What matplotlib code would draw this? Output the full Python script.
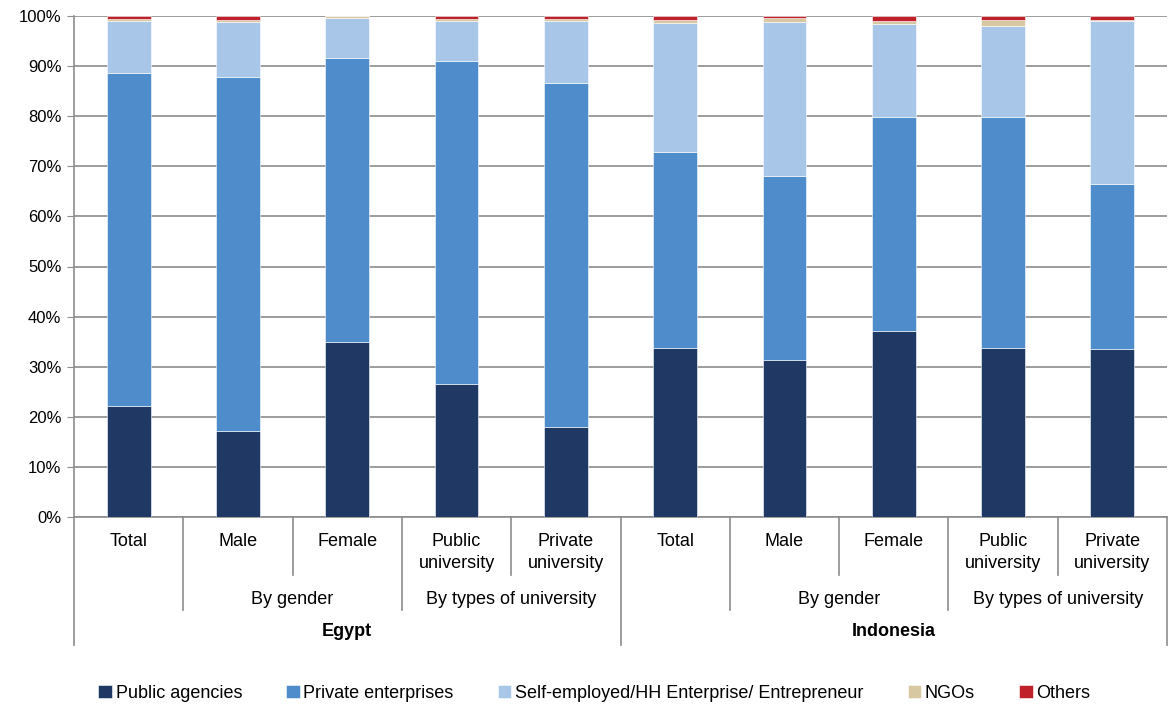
import numpy as np
import matplotlib
matplotlib.use("Agg")
import matplotlib.pyplot as plt
import matplotlib.transforms as mtransforms

plt.rcParams['font.family'] = ['Liberation Sans', 'DejaVu Sans']

# ---- data (percent shares) ----
categories = ['Total', 'Male', 'Female', 'Public\nuniversity', 'Private\nuniversity',
              'Total', 'Male', 'Female', 'Public\nuniversity', 'Private\nuniversity']
groups = ['', 'By gender', 'By types of university']
countries = ['Egypt', 'Indonesia']

public_agencies = [22.1, 17.1, 35.0, 26.5, 18.0, 33.7, 31.3, 37.1, 33.7, 33.5]
private_enterprises = [66.5, 70.7, 56.6, 64.5, 68.6, 39.2, 36.7, 42.7, 46.1, 33.0]
self_employed = [10.5, 11.1, 8.0, 8.1, 12.5, 25.7, 30.9, 18.6, 18.3, 32.6]
ngos = [0.4, 0.4, 0.4, 0.4, 0.4, 0.7, 0.8, 0.6, 1.2, 0.1]
others = [0.5, 0.7, 0.0, 0.5, 0.5, 0.7, 0.3, 1.0, 0.7, 0.8]

series = [public_agencies, private_enterprises, self_employed, ngos, others]
names = ['Public agencies', 'Private enterprises',
         'Self-employed/HH Enterprise/ Entrepreneur', 'NGOs', 'Others']
colors = ['#1f3864', '#4f8ccb', '#a7c6e8', '#d8c8a2', '#c0202a']

fig = plt.figure(figsize=(11.7, 7.07), dpi=100)
ax = fig.add_axes([74/1170, 1 - 517/707, (1167-74)/1170, (517-16)/707])

x = np.arange(len(categories))
bottom = np.zeros(len(categories))
for vals, name, c in zip(series, names, colors):
    ax.bar(x, vals, width=0.4, bottom=bottom, color=c, label=name,
           edgecolor='white', linewidth=0.4, zorder=3)
    bottom += np.array(vals)

gridc = '#8c8c8c'
ax.set_xlim(-0.5, len(categories) - 0.5)
ax.set_ylim(0, 100)
ax.set_yticks(np.arange(0, 101, 10))
ax.set_yticklabels([f'{v}%' for v in range(0, 101, 10)], fontsize=12)
ax.yaxis.grid(True, color=gridc, linewidth=1.2, zorder=0)
ax.set_xticks([])
for s in ['top', 'right']:
    ax.spines[s].set_visible(False)
for s in ['left', 'bottom']:
    ax.spines[s].set_color(gridc)
    ax.spines[s].set_linewidth(1.2)
ax.tick_params(axis='y', length=5, color=gridc, pad=4)

# ---- multi-level category axis ----
trans = mtransforms.blended_transform_factory(ax.transData, ax.transAxes)
h = 501.0
y1 = -(575 - 517) / h
y2 = -(610 - 517) / h
y3 = -(645 - 517) / h
sep_depth = {0: y3, 5: y3, 10: y3, 1: y2, 3: y2, 6: y2, 8: y2, 2: y1, 4: y1, 7: y1, 9: y1}
for k, d in sep_depth.items():
    ax.plot([k - 0.5, k - 0.5], [0, d], transform=trans, color=gridc,
            linewidth=1.2, clip_on=False)

for i, lab in enumerate(categories):
    ax.text(i, -(533 - 517) / h, lab, transform=trans, ha='center', va='top',
            fontsize=13, linespacing=1.35)

for c0 in (0, 5):
    ax.text(c0 + 1.5, -(599 - 517) / h, groups[1], transform=trans,
            ha='center', va='center', fontsize=13)
    ax.text(c0 + 3.5, -(599 - 517) / h, groups[2], transform=trans,
            ha='center', va='center', fontsize=13)
for j, cn in enumerate(countries):
    ax.text(j * 5 + 2, -(632 - 517) / h, cn, transform=trans, ha='center',
            va='center', fontsize=13, fontweight='bold')

fig.legend(loc='center', bbox_to_anchor=(0.508, 1 - 693/707), ncol=5,
           frameon=False, fontsize=13, handlelength=0.75, handleheight=0.75,
           handletextpad=0.2, columnspacing=2.45)

fig.savefig('out.png', dpi=100)
